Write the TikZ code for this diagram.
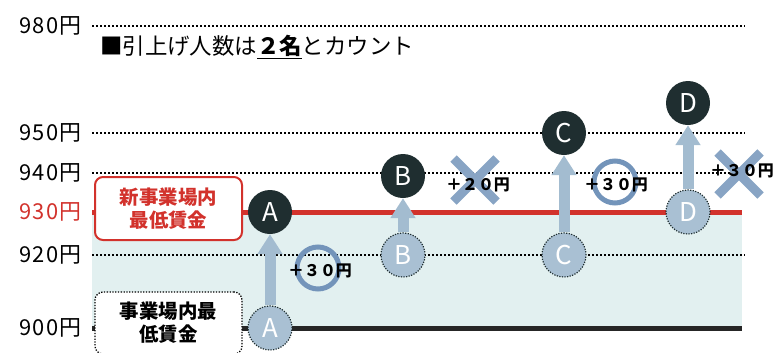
\documentclass[tikz,border=0pt]{standalone}
\usepackage{fontspec}
\setmainfont{Noto Sans CJK JP}
\usepackage{xcolor}
\usetikzlibrary{positioning}
\usetikzlibrary{arrows.meta}
\usetikzlibrary{shapes.misc}

\definecolor{darkdot}{HTML}{1F2E30}
\definecolor{paledot}{HTML}{A9C0D3}
\definecolor{liftblue}{HTML}{A3BCD0}
\definecolor{markblue}{HTML}{7394BA}
\definecolor{wagered}{HTML}{D2322C}
\definecolor{bandcyan}{HTML}{E2F0F0}

\tikzset{
  gridline/.style={line width=1.8bp, dash pattern=on 1.8bp off 2.2bp},
  yenlabel/.style={anchor=east, inner sep=0,
                   font=\fontsize{22}{22}\selectfont\addfontfeature{LetterSpace=6}},
  newdot/.style={circle, fill=darkdot, text=white, minimum size=44bp, inner sep=0,
                 font=\fontsize{26}{26}\selectfont},
  olddot/.style={circle, fill=paledot, text=white, minimum size=44bp, inner sep=0,
                 draw=darkdot, line width=1.2bp, dash pattern=on 1.2bp off 1.4bp,
                 font=\fontsize{26}{26}\selectfont},
  lift/.style={line width=11bp, liftblue, -{Triangle[width=24bp,length=20bp]}},
  okmark/.style={circle, draw=markblue, line width=5bp, minimum size=42bp, inner sep=0},
  ngmark/.style={cross out, draw=markblue!85, line width=9bp, minimum size=34bp, inner sep=0},
  rise/.style={inner sep=0, font=\bfseries\fontsize{16}{16}\selectfont},
  wagebox/.style={rectangle, rounded corners=8bp, fill=white, minimum width=147bp,
                  align=center, font=\bfseries\fontsize{19.5}{23}\selectfont}
}

\begin{document}
\begin{tikzpicture}[x=1bp, y=-1bp]
\useasboundingbox (0,0) rectangle (774,352);

% band and grid
\fill[bandcyan] (92,212) rectangle (742,328);
\draw[gridline] (92,26) -- (745,26);
\draw[gridline] (92,133) -- (745,133);
\draw[gridline] (92,173) -- (745,173);
\draw[gridline] (92,255) -- (745,255);
\draw[wagered, line width=5bp] (92,212) -- (742,212);
\draw[black!85, line width=5bp] (92,328) -- (742,328);

\node[yenlabel] (l980) at (82,26) {980円};
\node[yenlabel] (l950) at (82,133) {950円};
\node[yenlabel] (l940) at (82,173) {940円};
\node[yenlabel, text=wagered] (l930) at (82,212) {930円};
\node[yenlabel] (l920) at (82,255) {920円};
\node[yenlabel] (l900) at (82,328) {900円};

\node[anchor=west, inner sep=0, font=\fontsize{22.5}{22.5}\selectfont] (title) at (100,47)
  {■引上げ人数は\textbf{\underline{２名}}とカウント};

\node[wagebox, draw=wagered, line width=2bp, text=wagered, minimum height=63bp] (newmin) at (168.5,208.5) {新事業場内\\最低賃金};
\node[wagebox, draw=black, line width=1.3bp, dash pattern=on 1.3bp off 1.5bp, minimum height=62bp] (oldmin) at (168.5,323) {事業場内最\\低賃金};

% workers before and after
\node[olddot] (Aold) at (270,328) {A};
\node[newdot] (Anew) at (270,212) {A};
\node[olddot] (Bold) at (403,255) {B};
\node[newdot] (Bnew) at (403,176) {B};
\node[olddot] (Cold) at (564,255) {C};
\node[newdot] (Cnew) at (564,133) {C};
\node[olddot] (Dold) at (688,212) {D};
\node[newdot] (Dnew) at (688,103) {D};

\draw[lift] (Aold) -- (Anew);
\draw[lift] (Bold) -- (Bnew);
\draw[lift] (Cold) -- (Cnew);
\draw[lift] (Dold) -- (Dnew);

% counted or not
\node[okmark] (okA) at (318,268) {};
\node[ngmark] (ngB) at (475,180) {};
\node[okmark] (okC) at (615,182) {};
\node[ngmark] (ngD) at (739,174) {};

\node[rise] (riseA) at (320,271) {＋３０円};
\node[rise] (riseB) at (478,185) {＋２０円};
\node[rise] (riseC) at (616,185) {＋３０円};
\node[rise] (riseD) at (742,171) {＋３０円};
\end{tikzpicture}
\end{document}
